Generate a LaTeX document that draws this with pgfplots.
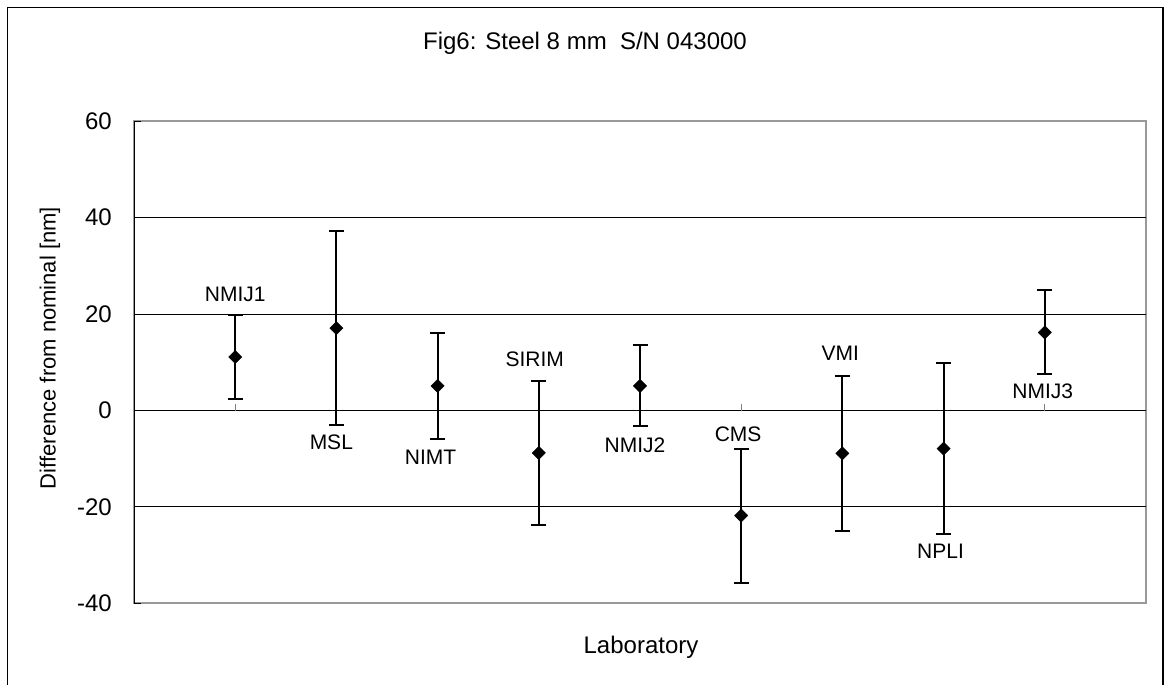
\documentclass[border=0pt]{standalone}
\usepackage{pgfplots}
\pgfplotsset{compat=1.18}
\usepackage{pgfplotstable}
\usepackage{fontspec}
\setmainfont{Liberation Sans}
\newcommand\fs[1]{\fontsize{#1pt}{#1pt}\selectfont}

% lab, value [nm], expanded uncertainty [nm]
\pgfplotstableread{
x y err
1 11.1 8.7
2 17.1 20.1
3 5.1 11.0
4 -8.8 15.0
5 5.1 8.4
6 -21.8 13.9
7 -8.9 16.0
8 -7.9 17.8
9 16.2 8.7
}\labdata

\begin{document}
\begin{tikzpicture}
\path[use as bounding box] (0,0) rectangle (1168pt,-685pt);
\draw[line width=1.3pt] (7.3pt,-700pt) -- (7.3pt,-7.3pt) -- (1163pt,-7.3pt) -- (1163pt,-700pt);
\begin{axis}[
  at={(134pt,-603.3pt)}, anchor=south west,
  width=1012pt, height=482pt, scale only axis,
  xmin=0, xmax=10, ymin=-40, ymax=60,
  xtick=\empty,
  ytick={-20,0,20,40}, yticklabels={-20,0,20,40},
  extra y ticks={-40,60}, extra y tick labels={-40,60},
  extra y tick style={grid=none},
  ymajorgrids, grid style={black, line width=1pt},
  axis line style={draw=none},
  axis background/.style={draw=gray!80, line width=2pt},
  tick align=inside, major tick length=7pt, ytick pos=left,
  tick style={black, line width=1pt},
  yticklabel style={font=\fs{24}, anchor=east, inner sep=0pt, xshift=-22pt},
  clip=false,
]
\pgfplotsinvokeforeach{1,...,9}{\draw[gray, line width=1pt] (axis cs:#1,0) -- ++(0pt,7pt);}
\addplot[black, only marks, mark=square*, mark size=4.7pt, mark options={rotate=45, fill=black},
  error bars/.cd, y dir=both, y explicit,
  error bar style={line width=2pt, black},
  error mark options={rotate=90, mark size=7.5pt, line width=2pt, black}]
  table[x=x, y=y, y error=err] {\labdata};
\draw[black, line width=1pt] (rel axis cs:0,0) -- (rel axis cs:0,1);
\begin{scope}[every node/.style={anchor=base, inner sep=0pt, font=\fs{21}}]
\node at (axis cs:1.00,22.7) {NMIJ1};
\node at (axis cs:1.95,-8.1) {MSL};
\node at (axis cs:2.93,-11.2) {NIMT};
\node at (axis cs:3.96,9.1) {SIRIM};
\node at (axis cs:4.95,-8.8) {NMIJ2};
\node at (axis cs:5.97,-6.4) {CMS};
\node at (axis cs:6.98,10.3) {VMI};
\node at (axis cs:7.97,-30.8) {NPLI};
\node at (axis cs:8.98,2.4) {NMIJ3};
\end{scope}
\end{axis}
\node[anchor=base, inner sep=0pt, font=\fs{24}] at (585pt,-49.3pt) {Fig6: Steel 8 mm\ \ S/N 043000};
\node[anchor=base, inner sep=0pt, font=\fs{24}] at (641pt,-653pt) {Laboratory};
\node[rotate=90, inner sep=0pt, font=\fs{22}] at (50pt,-348pt) {Difference from nominal [nm]};
\end{tikzpicture}
\end{document}
